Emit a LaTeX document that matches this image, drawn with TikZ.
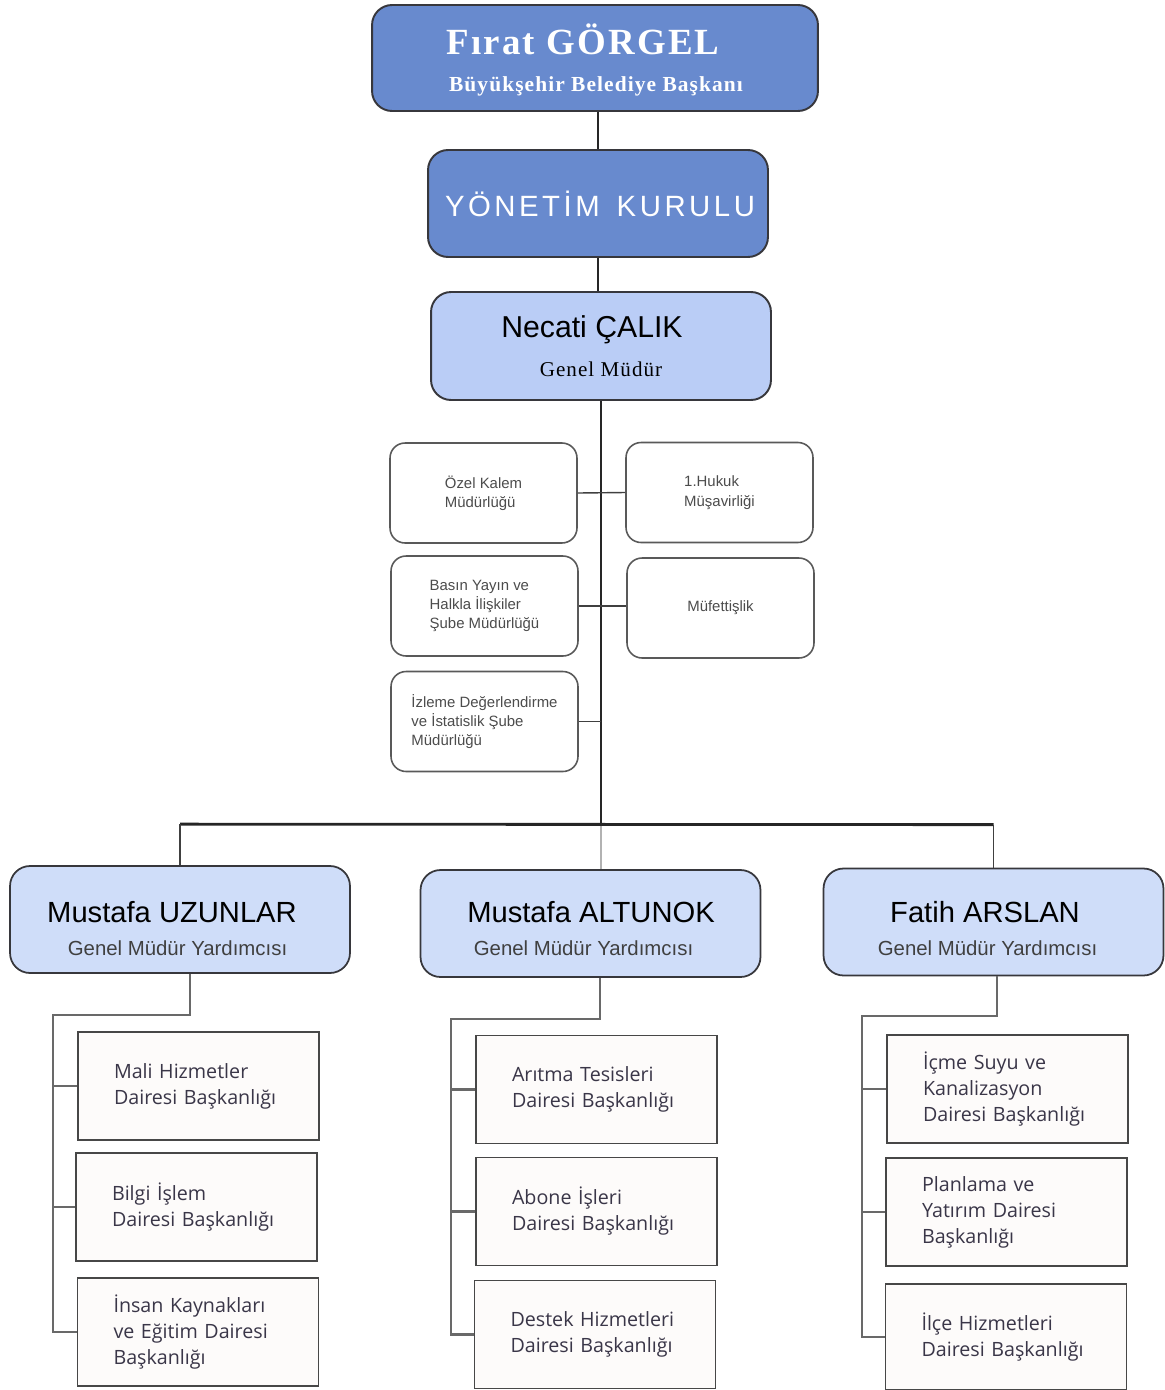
\documentclass[tikz,border=0pt]{standalone}
\usepackage{fontspec}
\setmainfont{Liberation Sans}
\newfontfamily\headserif[LetterSpace=6]{Liberation Serif}
\newfontfamily\roleserif[LetterSpace=5]{Liberation Serif}
\newfontfamily\boardsans[LetterSpace=12]{Liberation Sans}
\newfontfamily\unitsans{Open Sans}
\usetikzlibrary{calc,positioning}

\definecolor{darkblue}{RGB}{104,138,206}
\definecolor{midblue}{RGB}{186,205,246}
\definecolor{paleblue}{RGB}{207,221,249}
\definecolor{edgegray}{RGB}{55,55,60}
\definecolor{linegray}{RGB}{105,105,105}
\definecolor{unittext}{RGB}{58,54,72}
\definecolor{unitfill}{RGB}{253,251,250}

\tikzset{
  headbox/.style={draw=edgegray, line width=1.1pt, fill=darkblue, rounded corners=0.4cm, minimum width=6.8cm, minimum height=2.14cm},
  gmbox/.style={draw=edgegray, line width=1.1pt, fill=midblue, rounded corners=0.4cm, minimum width=6.8cm, minimum height=2.16cm},
  depbox/.style={draw=edgegray, line width=1pt, fill=paleblue, rounded corners=0.4cm, minimum width=6.8cm, minimum height=2.14cm},
  smallbox/.style={draw=black!65, line width=0.9pt, fill=white, rounded corners=0.3cm, minimum width=3.74cm, minimum height=2cm, align=left, text=black!70, font=\fontsize{8.5}{11}\selectfont},
  unitbox/.style={draw=black!72, line width=1.1pt, fill=unitfill, minimum width=4.82cm, minimum height=2.16cm, inner xsep=0.72cm, text width=3.38cm, align=left, text=unittext, font=\unitsans\fontsize{11.2}{14.8}\selectfont},
  trunk/.style={draw=black!85, line width=1.6pt},
  dropline/.style={draw=black!75, line width=0.8pt},
  unitline/.style={draw=linegray, line width=1.2pt},
  namefont/.style={anchor=base, font=\fontsize{16.6}{20}\selectfont},
  rolefont/.style={anchor=base, text=black!75, font=\fontsize{11.6}{14}\selectfont}
}

\begin{document}
\begin{tikzpicture}[x=0.02cm, y=-0.02cm]
		%%%%% START %%%%%
		\useasboundingbox (0,0) rectangle (1164,1390);
		
		% top of the chart
		\node[headbox, minimum width=8.92cm, minimum height=2.12cm] (mayor) at (595,58) {};
		\node[anchor=base, text=white, font=\headserif\bfseries\fontsize{21}{25}\selectfont] at (583,54) {Fırat GÖRGEL};
		\node[anchor=base, text=white, font=\roleserif\bfseries\fontsize{12.2}{15}\selectfont] at (596,91) {Büyükşehir Belediye Başkanı};
		
		\node[headbox] (board) at (598,203.5) {};
		\node[anchor=base, text=white, font=\boardsans\fontsize{16.7}{20}\selectfont] at (600,216) {YÖNETİM\hspace{3pt} KURULU};
		
		\node[gmbox] (gm) at (601,346) {};
		\node[anchor=base, font=\fontsize{17.2}{20}\selectfont] at (592,337) {Necati ÇALIK};
		\node[anchor=base, font=\roleserif\fontsize{12}{14}\selectfont] at (601,376) {Genel Müdür};
		
		\draw[trunk] (board.north |- mayor.south) -- (board.north);
		\draw[trunk] (board.south) -- (board.south |- gm.north);
		
		% units bound to the general manager
		\node[smallbox] (ozel) at (483.5,493) {Özel Kalem\\Müdürlüğü};
		\node[smallbox] (hukuk) at (719.5,492.5) {1.Hukuk\\Müşavirliği};
		\node[smallbox] (basin) at (484.5,606) {Basın Yayın ve\\Halkla İlişkiler\\Şube Müdürlüğü};
		\node[smallbox] (mufet) at (720.5,608) {Müfettişlik};
		\node[smallbox] (izleme) at (484.5,721.5) {İzleme Değerlendirme\\ve İstatislik Şube\\Müdürlüğü};
		
		\coordinate (bus) at ($(gm.south)+(0,425)$);
		\draw[trunk] (gm.south) -- (bus);
		\draw[dropline] (ozel.east) -- (hukuk.west);
		\draw[dropline] (basin.east) -- (basin.east -| mufet.west);
		\draw[dropline] (izleme.east) -- (izleme.east -| bus);
		
		% deputies
		\node[depbox] (uz) at (180,919.5) {};
		\node[namefont] at (172,922) {Mustafa UZUNLAR};
		\node[rolefont] at (177.5,955) {Genel Müdür Yardımcısı};
		
		\node[depbox] (al) at (590.5,923.5) {};
		\node[namefont] at (591,922) {Mustafa ALTUNOK};
		\node[rolefont] at (583.5,955) {Genel Müdür Yardımcısı};
		
		\node[depbox] (ar) at (993.5,922) {};
		\node[namefont] at (985,922) {Fatih ARSLAN};
		\node[rolefont] at (987.5,955) {Genel Müdür Yardımcısı};
		
		\draw[trunk] ($(uz.north)+(0,-41)$) -- ($(ar.north)+(0,-43)$);
		\draw[dropline] (uz.north) -- ++(0,-41);
		\draw[dropline] (ar.north) -- ++(0,-43);
		\draw[dropline, draw=black!30] (bus) -- (bus |- al.north);
		
		% left column
		\node[unitbox] (mali) at (198.5,1086) {Mali Hizmetler\\Dairesi Başkanlığı};
		\node[unitbox] (bilgi) at (196.5,1207) {Bilgi İşlem\\Dairesi Başkanlığı};
		\node[unitbox] (insan) at (198,1332) {İnsan Kaynakları\\ve Eğitim Dairesi\\Başkanlığı};
		\coordinate (uzbus) at (53,1015);
		\draw[unitline] ($(uz.south)+(10,0)$) |- (uzbus) |- (insan.west);
		\draw[unitline] (uzbus |- mali.west) -- (mali.west);
		\draw[unitline] (uzbus |- bilgi.west) -- (bilgi.west);
		
		% middle column
		\node[unitbox] (aritma) at (596.5,1089.5) {Arıtma Tesisleri\\Dairesi Başkanlığı};
		\node[unitbox] (abone) at (596.5,1211.5) {Abone İşleri\\Dairesi Başkanlığı};
		\node[unitbox] (destek) at (595,1334.5) {Destek Hizmetleri\\Dairesi Başkanlığı};
		\coordinate (albus) at (451,1019);
		\draw[unitline] ($(al.south)+(9.5,0)$) |- (albus) |- (destek.west);
		\draw[unitline] (albus |- aritma.west) -- (aritma.west);
		\draw[unitline] (albus |- abone.west) -- (abone.west);
		
		% right column
		\node[unitbox] (icme) at (1007.5,1089) {İçme Suyu ve\\Kanalizasyon\\Dairesi Başkanlığı};
		\node[unitbox] (plan) at (1006.5,1212) {Planlama ve\\Yatırım Dairesi\\Başkanlığı};
		\node[unitbox, minimum height=2.12cm] (ilce) at (1006,1337) {İlçe Hizmetleri\\Dairesi Başkanlığı};
		\coordinate (arbus) at (862,1016);
		\draw[unitline] ($(ar.south)+(3.5,0)$) |- (arbus) |- (ilce.west);
		\draw[unitline] (arbus |- icme.west) -- (icme.west);
		\draw[unitline] (arbus |- plan.west) -- (plan.west);
		%%%%% END %%%%%
\end{tikzpicture}
\end{document}
